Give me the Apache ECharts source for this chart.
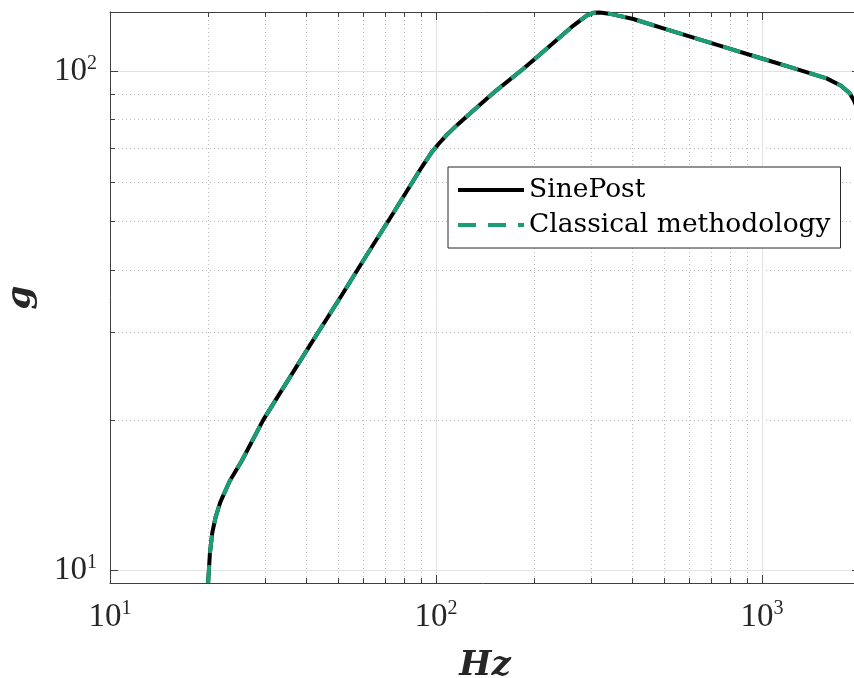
<!DOCTYPE html>
<html>
<head>
<meta charset="utf-8">
<script src="https://cdn.jsdelivr.net/npm/echarts@6/dist/echarts.min.js"></script>
<style>
  html, body { margin: 0; padding: 0; background: #fff; }
  #chart { width: 854px; height: 678px; }
</style>
</head>
<body>
<div id="chart"></div>
<script>
// data (log-log)
const freq = [20, 20.25, 20.6, 21.1, 21.8, 23.3, 25.4, 29.5, 34, 41, 51, 61, 74, 89, 92, 97, 102, 108, 116, 130, 153, 185, 201, 240, 264, 290, 304, 318, 340, 362, 403, 510, 646, 800, 1000, 1250, 1580, 1750, 1860, 1914, 1960, 2000];
const sinePost = [9.43, 10.8, 11.9, 12.8, 13.7, 15.1, 16.6, 20.0, 23.2, 28.2, 35.3, 42.6, 52.0, 63.2, 65.3, 68.8, 71.6, 74.6, 78.0, 83.4, 91.5, 101.1, 105.9, 117, 123.5, 129.3, 131.0, 131.2, 130.5, 129.3, 127.3, 121.4, 115.8, 110.9, 106.1, 101.5, 96.8, 93.6, 90.4, 87.5, 84.5, 81];
const classical = [9.43, 10.8, 11.9, 12.8, 13.7, 15.1, 16.6, 20.0, 23.2, 28.2, 35.3, 42.6, 52.0, 63.2, 65.3, 68.8, 71.6, 74.6, 78.0, 83.4, 91.5, 101.1, 105.9, 117, 123.5, 129.3, 131.0, 131.2, 130.5, 129.3, 127.3, 121.4, 115.8, 110.9, 106.1, 101.5, 96.8, 93.6, 90.4, 87.5, 84.5, 81];

const xMajor = [10, 100, 1000];
const xMinor = [20, 30, 40, 50, 60, 70, 80, 90, 200, 300, 400, 500, 600, 700, 800, 900, 2000];
const yMajor = [10, 100];
const yMinor = [20, 30, 40, 50, 60, 70, 80, 90];

const xRange = [10, 2000];
const yRange = [9.43, 131.5];

const serif = "Liberation Serif";
const axisColor = "#404040";

let chart = echarts.init(document.getElementById("chart"));

function powLabel(v) {
  return "{b|10}{s|" + Math.round(Math.log10(v)) + "}";
}
const labelRich = {
  b: { fontFamily: serif, fontSize: 33, color: "#262626" },
  s: { fontFamily: serif, fontSize: 20, color: "#262626", padding: [0, 0, 16, 0] }
};

// one axis for major ticks/grid, one for minor ticks/grid, same on the opposite side
function makeAxis(dim, pos, range, major, minor, isMinor, withLabel) {
  let ax = {
    type: "log",
    logBase: 10,
    min: range[0],
    max: range[1],
    position: pos,
    axisLine: { show: !isMinor, lineStyle: { color: axisColor, width: 1 } },
    axisTick: {
      show: true,
      inside: true,
      length: isMinor ? 5 : 8,
      customValues: isMinor ? minor : major,
      lineStyle: { color: axisColor, width: 1 }
    },
    axisLabel: { show: false },
    splitLine: { show: false },
    minorTick: { show: false },
    minorSplitLine: { show: false }
  };
  if (withLabel) {
    ax.axisLabel = {
      show: true,
      customValues: major,
      formatter: powLabel,
      rich: labelRich,
      margin: dim === "x" ? 16 : 13
    };
    ax.splitLine = { show: true, lineStyle: { color: "#e2e2e2", width: 1 } };
  }
  if (isMinor && (pos === "bottom" || pos === "left")) {
    ax.splitLine = { show: true, lineStyle: { color: "#bdbdbd", width: 1, type: [1, 3] } };
  }
  return ax;
}

let xAxes = [
  makeAxis("x", "bottom", xRange, xMajor, xMinor, false, true),
  makeAxis("x", "bottom", xRange, xMajor, xMinor, true, false),
  makeAxis("x", "top", xRange, xMajor, xMinor, false, false),
  makeAxis("x", "top", xRange, xMajor, xMinor, true, false)
];
xAxes[0].name = "Hz";
xAxes[0].nameLocation = "middle";
xAxes[0].nameGap = 66;
xAxes[0].nameTextStyle = { fontFamily: "DejaVu Serif", fontSize: 34, fontWeight: "bold", fontStyle: "italic", color: "#262626" };

let yAxes = [
  makeAxis("y", "left", yRange, yMajor, yMinor, false, true),
  makeAxis("y", "left", yRange, yMajor, yMinor, true, false),
  makeAxis("y", "right", yRange, yMajor, yMinor, false, false),
  makeAxis("y", "right", yRange, yMajor, yMinor, true, false)
];
yAxes[0].name = "g";
yAxes[0].nameLocation = "middle";
yAxes[0].nameGap = 72;
yAxes[0].nameRotate = 90;
yAxes[0].nameTextStyle = { fontFamily: "DejaVu Serif", fontSize: 34, fontWeight: "bold", fontStyle: "italic", color: "#262626" };

let option = {
  animation: false,
  backgroundColor: "#ffffff",
  grid: { left: 110, top: 12, right: -6, bottom: 95, containLabel: false, outerBoundsMode: "none" },
  legend: {
    orient: "vertical",
    left: 448,
    top: 167,
    padding: [8, 10, 8, 8],
    itemGap: 5,
    itemWidth: 66,
    itemHeight: 14,
    backgroundColor: "#ffffff",
    borderColor: "#262626",
    borderWidth: 1,
    borderRadius: 0,
    itemStyle: { opacity: 0 },
    lineStyle: { width: 4 },
    textStyle: { fontFamily: "DejaVu Serif", fontSize: 26.5, color: "#000", lineHeight: 30 },
    data: ["SinePost", "Classical methodology"]
  },
  xAxis: xAxes,
  yAxis: yAxes,
  series: [
    {
      name: "SinePost",
      type: "line",
      xAxisIndex: 0,
      yAxisIndex: 0,
      symbol: "none",
      color: "#000000",
      lineStyle: { color: "#000000", width: 4 },
      data: freq.map((f, i) => [f, sinePost[i]])
    },
    {
      name: "Classical methodology",
      type: "line",
      xAxisIndex: 0,
      yAxisIndex: 0,
      symbol: "none",
      color: "#1b9e77",
      lineStyle: { color: "#1b9e77", width: 4, type: [18, 12] },
      data: freq.map((f, i) => [f, classical[i]])
    }
  ]
};
chart.setOption(option);
window.addEventListener("resize", () => {
  chart.resize();
});
</script>
</body>
</html>
